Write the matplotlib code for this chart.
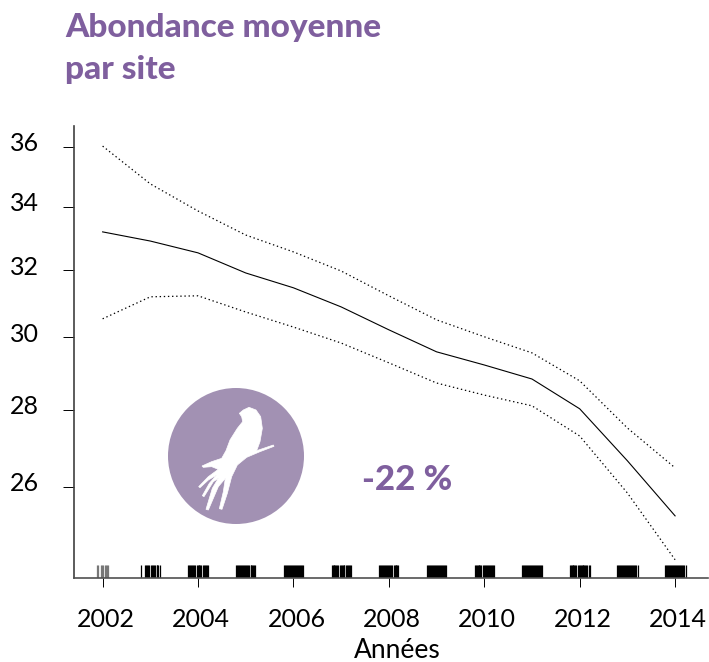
import matplotlib
matplotlib.use('Agg')
import matplotlib.pyplot as plt
from matplotlib.patches import Circle, Polygon
from matplotlib.transforms import Affine2D, ScaledTranslation

W, H = 709, 662
PURPLE = '#7f5f9e'
ICON = '#a291b3'

years = list(range(2002, 2015))
abundance = [33.19, 32.90, 32.53, 31.91, 31.46, 30.89, 30.22, 29.59, 29.22, 28.83, 28.02, 26.66, 25.29]
upper = [36.03, 34.75, 33.86, 33.09, 32.56, 31.97, 31.22, 30.51, 30.02, 29.56, 28.78, 27.51, 26.48]
lower = [30.54, 31.19, 31.22, 30.74, 30.30, 29.84, 29.28, 28.72, 28.39, 28.10, 27.30, 25.85, 24.25]

x_ticks = [2002, 2004, 2006, 2008, 2010, 2012, 2014]
y_ticks = [26, 28, 30, 32, 34, 36]

# survey dates seen in the rug, as offsets from each year
rug_sparse = [-0.11, -0.09, -0.03, -0.01, 0.0, 0.05, 0.07, 0.09, 0.11]
rug_2003 = [-0.19, -0.12, -0.1, -0.06, -0.04, -0.02, 0.02, 0.04, 0.06, 0.08, 0.1, 0.13, 0.15, 0.17, 0.2]
rug_mid = [-0.2, -0.18, -0.16, -0.14, -0.12, -0.1, -0.08, -0.06, -0.03, -0.01, 0.01, 0.03, 0.05, 0.07, 0.1, 0.12,
           0.14, 0.16, 0.18, 0.2]
rug_dense = [-0.21, -0.19, -0.17, -0.15, -0.13, -0.11, -0.09, -0.07, -0.04, -0.02, 0.0, 0.02, 0.04, 0.06, 0.08, 0.1,
             0.12, 0.14, 0.16, 0.19, 0.22]

# white swallow, traced in crop pixels (3x, from 150,380)
bird_crop = [(268, 100), (280, 90), (297, 82), (318, 90), (332, 110), (337, 145), (330, 185), (320, 212), (370, 195),
             (372, 199), (330, 215), (290, 232), (262, 255), (245, 290), (232, 340), (216, 388), (208, 386), (220, 335),
             (226, 295), (205, 320), (175, 390), (168, 388), (187, 325), (205, 295), (190, 305), (162, 350), (157, 347),
             (178, 310), (200, 285), (175, 300), (150, 323), (146, 320), (175, 290), (205, 268), (185, 260), (160, 262),
             (156, 258), (185, 245), (215, 235), (228, 212), (240, 180), (262, 145), (278, 125), (275, 110)]
bird = [(150 + x / 3, 380 + y / 3) for x, y in bird_crop]

fig = plt.figure(figsize=(W / 100, H / 100), dpi=100)
plt.rcParams['font.family'] = ['Lato', 'DejaVu Sans']
ax = fig.add_axes([74 / W, 1 - 578 / H, 634 / W, 452 / H])
ax.set_yscale('log')

ax.plot(years, abundance, color='black', lw=0.8)
ax.plot(years, upper, color='black', lw=0.9, ls=(0, (1.1, 2.2)))
ax.plot(years, lower, color='black', lw=0.9, ls=(0, (1.1, 2.2)))

ax.set_xlim(2001.40, 2014.69)
ax.set_ylim(23.83, 36.73)

# rug along the bottom axis
rugs = [rug_sparse, rug_2003, rug_mid, rug_mid, rug_mid, rug_mid, rug_mid, rug_mid, rug_mid,
        rug_dense, rug_dense, rug_dense, rug_dense]
for year, offsets in zip(years, rugs):
    ax.vlines([year + o for o in offsets], 0, 0.029, transform=ax.get_xaxis_transform(),
              color='#777777' if year == 2002 else 'black', lw=0.9)

ax.spines['top'].set_visible(False)
ax.spines['right'].set_visible(False)
ax.spines['left'].set_color('#404040')
ax.spines['bottom'].set_color('#505050')
ax.spines['left'].set_linewidth(1.2)
ax.spines['bottom'].set_linewidth(1.2)

ax.set_xticks(x_ticks)
ax.set_yticks(y_ticks)
ax.set_yticklabels([str(v) for v in y_ticks])
ax.minorticks_off()
ax.tick_params(axis='x', length=6.5, width=0.7, labelsize=18, pad=15)
ax.tick_params(axis='y', length=8, width=0.7, labelsize=18, pad=17)
for lab in ax.get_yticklabels():
    lab.set_transform(lab.get_transform() + ScaledTranslation(0, 5 / 100, fig.dpi_scale_trans))
for lab in ax.get_xticklabels():
    lab.set_transform(lab.get_transform() + ScaledTranslation(3 / 100, 0, fig.dpi_scale_trans))

# everything below is placed in reference pixels
px = Affine2D().scale(1, -1).translate(0, H) + Affine2D().scale(fig.bbox.width / W, fig.bbox.height / H)
fig.add_artist(Circle((236, 456), 68, transform=px, facecolor=ICON, edgecolor='none'))
fig.add_artist(Polygon(bird, closed=True, transform=px, facecolor='white', edgecolor='white', lw=0.5))

fig.text(65 / W, 1 - 27 / H, 'Abondance moyenne', color=PURPLE, fontsize=24, fontweight=900, va='center')
fig.text(65 / W, 1 - 70 / H, 'par site', color=PURPLE, fontsize=24, fontweight=900, va='center')
fig.text(407 / W, 1 - 480 / H, '-22 %', color=PURPLE, fontsize=25, fontweight=900, va='center', ha='center')
fig.text(397 / W, 1 - 650 / H, 'Années', color='black', fontsize=19, va='center', ha='center')

fig.savefig('out.png', dpi=100)
